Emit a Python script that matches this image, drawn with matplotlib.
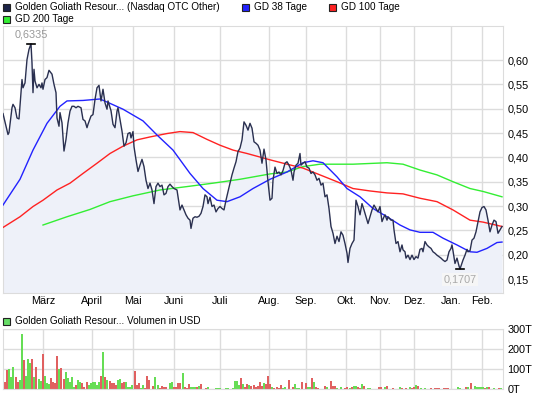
import numpy as np
import matplotlib
matplotlib.use("Agg")
import matplotlib.pyplot as plt
from matplotlib.patches import Rectangle

plt.rcParams["font.family"] = ["Liberation Sans", "DejaVu Sans"]

# time axis: chart position (trading sessions, ~2 units per session)
price_t = [0, 3, 5, 6, 9, 10, 12, 14, 16, 19, 20, 22, 24, 26, 28, 29, 30, 31, 32, 34,
           36, 38, 39, 40, 42, 44, 46, 49, 51, 53, 54, 56, 57, 59, 61, 63, 65, 67, 69, 71,
           73, 75, 78, 80, 82, 84, 85, 88, 90, 92, 94, 96, 98, 100, 102, 104, 105, 108, 110, 112,
           114, 115, 117, 119, 121, 123, 125, 127, 128, 130, 131, 133, 135, 137, 139, 141, 143, 145, 147, 149,
           151, 153, 155, 157, 159, 161, 163, 165, 167, 169, 171, 174, 175, 177, 179, 181, 183, 185, 187, 188,
           190, 192, 194, 196, 198, 200, 202, 204, 205, 207, 209, 211, 213, 215, 217, 219, 221, 223, 225, 227,
           229, 231, 233, 235, 237, 239, 241, 243, 245, 247, 249, 251, 253, 255, 257, 259, 261, 263, 265, 267,
           269, 270, 272, 274, 276, 278, 280, 282, 284, 286, 288, 290, 291, 293, 295, 297, 298, 300, 302, 304,
           306, 308, 310, 312, 314, 316, 318, 320, 322, 324, 326, 328, 330, 332, 334, 336, 338, 340, 342, 344,
           345, 347, 349, 351, 352, 353, 355, 357, 359, 361, 363, 365, 367, 369, 371, 373, 375, 377, 379, 381,
           382, 384, 385, 388, 390, 391, 393, 395, 397, 399, 400, 402, 403, 405, 407, 409, 411, 413, 415, 417,
           419, 420, 422, 424, 426, 428, 430, 432, 434, 436, 438, 440, 442, 444, 446, 448, 449, 450, 452, 454,
           456, 457, 460, 462, 464, 465, 467, 469, 471, 473, 475, 477, 479, 481, 483, 485, 487, 489, 491, 493,
           495, 497, 499]
price = [.490, .464, .447, .451, .502, .509, .502, .481, .479, .560, .543, .553, .601, .622, .6335, .594, .533, .581, .557, .543,
         .550, .543, .553, .540, .560, .564, .579, .571, .550, .533, .481, .464, .492, .471, .413, .437, .471, .495, .505, .505,
         .502, .505, .502, .478, .475, .461, .468, .485, .488, .519, .543, .548, .516, .540, .512, .499, .516, .496, .468, .461,
         .495, .502, .478, .454, .423, .430, .449, .451, .440, .453, .422, .395, .371, .384, .396, .381, .353, .336, .347, .333,
         .305, .340, .347, .340, .343, .323, .326, .340, .345, .340, .336, .333, .319, .292, .302, .292, .282, .275, .271, .254,
         .275, .278, .277, .279, .285, .299, .323, .319, .305, .318, .299, .302, .288, .295, .299, .295, .292, .312, .330, .347,
         .364, .378, .391, .412, .419, .436, .473, .466, .456, .470, .460, .432, .429, .425, .415, .388, .417, .395, .350, .312,
         .316, .353, .380, .367, .370, .364, .373, .388, .391, .384, .374, .353, .370, .384, .388, .408, .384, .388, .391, .380,
         .378, .367, .370, .364, .353, .357, .343, .347, .319, .323, .295, .258, .244, .223, .238, .227, .247, .240, .223, .203,
         .184, .213, .223, .230, .271, .312, .299, .282, .305, .292, .278, .264, .278, .292, .302, .295, .288, .299, .268, .278,
         .282, .271, .278, .271, .271, .251, .223, .227, .206, .220, .210, .206, .193, .199, .190, .199, .190, .196, .193, .211,
         .213, .206, .227, .220, .216, .213, .206, .203, .199, .196, .193, .189, .186, .189, .206, .213, .220, .208, .182, .193,
         .177, .1707, .189, .199, .211, .206, .208, .230, .234, .247, .268, .288, .297, .299, .292, .271, .247, .261, .271, .268,
         .244, .251, .258]

gd38_t = [0, 17, 30, 44, 57, 64, 80, 97, 107, 120, 130, 140, 154, 170, 187, 200, 214, 224, 237, 250,
          267, 284, 300, 310, 320, 334, 344, 357, 370, 384, 397, 407, 417, 430, 440, 454, 467, 474, 484, 494, 499]
gd38 = [.302, .355, .415, .470, .505, .516, .517, .520, .511, .499, .487, .475, .446, .415, .367, .336, .312, .309, .319, .336,
        .355, .370, .389, .393, .389, .360, .336, .319, .295, .278, .261, .251, .246, .246, .234, .220, .206, .205, .213, .225, .226]

gd100_t = [0, 17, 30, 40, 54, 67, 80, 94, 107, 120, 134, 147, 164, 177, 190, 204, 217, 230, 244, 267,
           284, 300, 317, 334, 350, 367, 384, 400, 417, 434, 450, 467, 480, 499]
gd100 = [.256, .278, .299, .312, .333, .347, .367, .388, .408, .423, .436, .442, .449, .453, .451, .437, .425, .415, .408, .395,
         .386, .378, .364, .350, .336, .331, .327, .325, .316, .309, .292, .271, .267, .258]

gd200_t = [40, 64, 87, 107, 130, 157, 184, 210, 237, 267, 284, 300, 317, 350, 384, 400, 417, 434, 450, 467, 480, 499]
gd200 = [.261, .278, .293, .309, .321, .333, .340, .347, .355, .366, .370, .381, .386, .386, .389, .386, .374, .364, .350, .336,
         .330, .319]

vol_t = [0, 2, 4, 6, 8, 10, 13, 15, 17, 19, 21, 23, 25, 27, 29, 31, 33, 36, 38, 40,
         42, 44, 46, 48, 50, 52, 54, 56, 58, 61, 63, 65, 67, 69, 71, 73, 75, 77, 79, 81,
         84, 86, 88, 90, 92, 94, 96, 98, 100, 102, 104, 107, 109, 111, 113, 115, 117, 119, 121, 123,
         125, 127, 129, 132, 134, 136, 138, 140, 142, 144, 146, 150, 152, 155, 157, 159, 161, 163, 167, 169,
         171, 173, 175, 177, 180, 182, 184, 186, 188, 190, 192, 194, 196, 198, 203, 205, 213, 215, 217, 223,
         225, 230, 232, 234, 236, 238, 240, 242, 244, 246, 248, 251, 253, 255, 257, 259, 261, 263, 265, 267,
         269, 271, 274, 276, 278, 280, 282, 286, 290, 292, 294, 296, 299, 303, 305, 307, 309, 311, 313, 315,
         322, 324, 328, 330, 332, 334, 338, 342, 344, 347, 349, 351, 353, 355, 357, 359, 361, 365, 367, 376,
         378, 382, 384, 390, 397, 399, 403, 407, 409, 411, 413, 415, 418, 422, 428, 432, 434, 436, 441, 443,
         445, 455, 457, 463, 465, 468, 472, 474, 476, 478, 480, 482, 484, 486, 491, 496, 498]
volume = [55, 35, 95, 100, 60, 110, 60, 37, 45, 275, 145, 65, 150, 130, 150, 60, 110, 50, 40, 175,
          65, 30, 25, 55, 35, 30, 165, 100, 105, 50, 85, 55, 35, 60, 8, 20, 45, 35, 30, 10,
          35, 20, 30, 35, 35, 20, 35, 65, 185, 60, 45, 40, 30, 30, 20, 45, 50, 30, 35, 35,
          10, 10, 20, 90, 20, 30, 5, 20, 5, 65, 45, 15, 60, 20, 5, 15, 10, 10, 30, 35,
          10, 10, 30, 30, 80, 10, 5, 25, 10, 10, 10, 10, 15, 25, 5, 10, 5, 5, 5, 5,
          5, 5, 40, 40, 20, 55, 25, 10, 25, 20, 15, 20, 10, 15, 35, 15, 30, 25, 65, 25,
          10, 5, 10, 5, 20, 5, 10, 45, 10, 25, 5, 5, 35, 30, 10, 10, 55, 35, 10, 5,
          15, 10, 40, 15, 15, 5, 10, 5, 10, 5, 10, 15, 15, 10, 5, 25, 15, 5, 5, 10,
          10, 10, 15, 5, 10, 5, 5, 10, 5, 10, 20, 15, 5, 5, 5, 5, 5, 5, 5, 5,
          5, 10, 5, 10, 10, 30, 15, 10, 10, 10, 10, 5, 10, 10, 5, 5, 5]
# r = down day, g = up day
vol_dir = ("rrrgggrrggrgggrgrggr"
           "gggrrrrgrrgggggrggrr"
           "rggggggrgrgrrrrggrrg"
           "gggrrrggrrrrggrrrrgg"
           "rrrrgrrrgggrgrrggggg"
           "gggggrgrrgrrrrrrgrrr"
           "grrrrggrrgggrrggrgrr"
           "rgrrrggrrgrggrrgrggr"
           "rgrrgrrgrrgrggrrrrrr"
           "rggrgrgggggrgrgrg")

months = ["März", "April", "Mai", "Juni", "Juli", "Aug.", "Sep.", "Okt.", "Nov.", "Dez.", "Jan.", "Feb."]
month_t = [40, 89, 130, 171, 217, 266, 303, 343, 377, 411, 448, 479]

price_ticks = [0.15, 0.20, 0.25, 0.30, 0.35, 0.40, 0.45, 0.50, 0.55, 0.60]
vol_ticks = [0, 100, 200, 300]

grid_c = "#dcdcdc"
fs = 7.8
fs_leg = 7.2
fig = plt.figure(figsize=(5.45, 3.98), dpi=100)

ax = fig.add_axes([3 / 545, 1 - 293 / 398, 500 / 545, 267 / 398])
ax.fill_between(price_t, price, 0, color="#eef1f9", zorder=1, linewidth=0)
ax.plot(gd200_t, gd200, color="#33ee33", lw=1.0, zorder=3)
ax.plot(gd100_t, gd100, color="#ff2222", lw=1.0, zorder=3)
ax.plot(gd38_t, gd38, color="#2222ff", lw=1.0, zorder=3)
ax.plot(price_t, price, color="#2a3050", lw=1.0, zorder=4)
ax.set_xlim(0, 500)
ax.set_ylim(0.1213, 0.670)
ax.set_yticks(price_ticks)
ax.set_yticklabels([f"{v:.2f}".replace(".", ",") for v in price_ticks])
ax.set_xticks(month_t)
ax.set_xticklabels(months)
ax.yaxis.tick_right()
ax.tick_params(length=0, labelsize=fs, pad=3)
ax.tick_params(axis="x", pad=2)
ax.grid(True, color=grid_c, lw=1.0, zorder=0)
ax.set_axisbelow(True)
for s in ax.spines.values():
    s.set_color(grid_c)

# high / low markers
imax = int(np.argmax(price))
imin = int(np.argmin(price))
ax.plot([price_t[imax] - 4, price_t[imax] + 4], [price[imax]] * 2, color="black", lw=1.2, zorder=5)
ax.text(price_t[imax], price[imax] + 0.009, f"{price[imax]:.4f}".replace(".", ","),
        ha="center", va="bottom", fontsize=fs, color="#999999")
ax.plot([price_t[imin] - 4, price_t[imin] + 4], [price[imin]] * 2, color="black", lw=1.2, zorder=5)
ax.text(price_t[imin], price[imin] - 0.012, f"{price[imin]:.4f}".replace(".", ","),
        ha="center", va="top", fontsize=fs, color="#aaaaaa",
        bbox=dict(facecolor="#f6f6f6", edgecolor="none", pad=1))

# volume panel
axv = fig.add_axes([3 / 545, 1 - 389 / 398, 500 / 545, 60 / 398])
cols = ["#e06060" if c == "r" else "#66dd55" for c in vol_dir]
axv.bar(vol_t, volume, width=1.1, color=cols, zorder=2)
axv.set_xlim(0, 500)
axv.set_ylim(0, 300)
axv.set_yticks(vol_ticks)
axv.set_yticklabels([f"{v}T" for v in vol_ticks])
axv.set_xticks(month_t)
axv.set_xticklabels([])
axv.yaxis.tick_right()
axv.tick_params(length=0, labelsize=fs, pad=3)
axv.grid(True, color=grid_c, lw=1.0, zorder=0)
axv.set_axisbelow(True)
for s in axv.spines.values():
    s.set_color(grid_c)

# legends
def legend_item(x, y, color, label):
    fig.patches.append(Rectangle((x / 545, 1 - (y + 4) / 398), 7 / 545, 7 / 398,
                                 facecolor=color, edgecolor="#222222", lw=0.8,
                                 transform=fig.transFigure, figure=fig))
    fig.text((x + 12) / 545, 1 - y / 398, label, fontsize=fs_leg, va="center", ha="left")

legend_item(3, 7, "#1c2448", "Golden Goliath Resour... (Nasdaq OTC Other)")
legend_item(242, 7, "#2222ff", "GD 38 Tage")
legend_item(329, 7, "#ff2222", "GD 100 Tage")
legend_item(3, 19, "#33ee33", "GD 200 Tage")
legend_item(3, 321, "#66dd66", "Golden Goliath Resour... Volumen in USD")

fig.savefig("out.png", dpi=100)
